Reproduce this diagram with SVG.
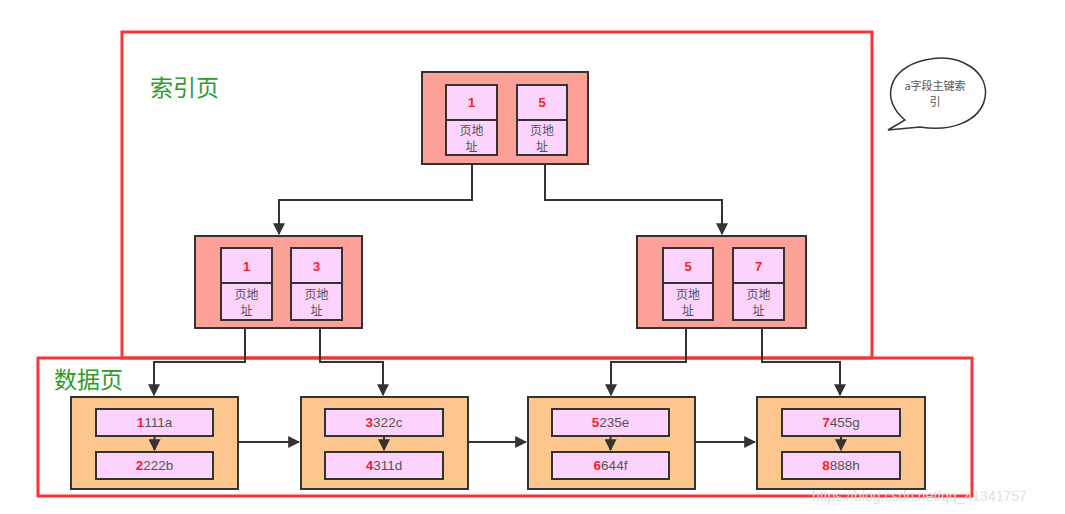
<svg xmlns="http://www.w3.org/2000/svg" width="1065" height="514" viewBox="0 0 1065 514">
<defs>
<style>
.frame{fill:none;stroke:#F5353A;stroke-width:3}
.idx{fill:#FDA098;stroke:#333;stroke-width:2}
.cell{fill:#FCD3FC;stroke:#333;stroke-width:2}
.data{fill:#FCC68E;stroke:#333;stroke-width:2}
.num{font-family:"Liberation Sans",Arial,sans-serif;font-weight:bold;font-size:13px;fill:#F21F2B;text-anchor:middle}
.lbl{font-family:"Noto Sans CJK SC",sans-serif;font-size:12px;fill:#555;text-anchor:middle}
.row{font-family:"Liberation Sans",Arial,sans-serif;font-size:13.5px;fill:#555;text-anchor:middle}
.row tspan.k{fill:#F21F2B;font-weight:bold}
.title{font-family:"Noto Sans CJK SC",sans-serif;font-size:23px;fill:#2E9A2E}
.conn{fill:none;stroke:#333;stroke-width:2}
</style>
<marker id="arr" viewBox="0 0 10 10" refX="9" refY="5" markerWidth="6" markerHeight="6" orient="auto" markerUnits="strokeWidth">
<path d="M0,0 L10,5 L0,10 z" fill="#333"/>
</marker>
</defs>
<rect width="1065" height="514" fill="#fff"/>

<g id="frames">
<rect class="frame" x="122" y="32" width="750" height="326"/>
<rect class="frame" x="38" y="358" width="934" height="138"/>
</g>
<text id="t-index" class="title" x="150" y="96">索引页</text>
<text id="t-data" class="title" x="54" y="388">数据页</text>

<g id="bubble">
<path d="M905,120 C880,100 888,68 925,60 C960,52 990,72 985,98 C980,122 950,132 920,127 L888,130 L905,120 Z" fill="#fff" stroke="#333" stroke-width="1.5"/>
<text class="lbl" x="935" y="90" style="font-size:11px">a字段主键索</text>
<text class="lbl" x="935" y="106" style="font-size:11px">引</text>
</g>

<g id="connectors">
<path class="conn" d="M472,164 V200 H279 V234" marker-end="url(#arr)"/>
<path class="conn" d="M545,164 V200 H722 V234" marker-end="url(#arr)"/>
<path class="conn" d="M245,328 V362 H154 V395" marker-end="url(#arr)"/>
<path class="conn" d="M320,328 V362 H383 V395" marker-end="url(#arr)"/>
<path class="conn" d="M686,328 V362 H611 V395" marker-end="url(#arr)"/>
<path class="conn" d="M762,328 V362 H840 V395" marker-end="url(#arr)"/>
<path class="conn" d="M238,442 H299" marker-end="url(#arr)"/>
<path class="conn" d="M468,442 H526" marker-end="url(#arr)"/>
<path class="conn" d="M695,442 H755" marker-end="url(#arr)"/>
</g>

<g id="node-root">
<rect class="idx" x="422" y="72" width="166" height="92"/>
<rect class="cell" x="446" y="85" width="51" height="70"/>
<line x1="446" y1="120" x2="497" y2="120" stroke="#333" stroke-width="2"/>
<rect class="cell" x="517" y="85" width="50" height="70"/>
<line x1="517" y1="120" x2="567" y2="120" stroke="#333" stroke-width="2"/>
<text class="num" x="471.5" y="107">1</text>
<text class="num" x="542" y="107">5</text>
<text class="lbl" x="471.5" y="135">页地</text><text class="lbl" x="471.5" y="151">址</text>
<text class="lbl" x="542" y="135">页地</text><text class="lbl" x="542" y="151">址</text>
</g>

<g id="node-left">
<rect class="idx" x="195" y="236" width="167" height="92"/>
<rect class="cell" x="221" y="248" width="51" height="72"/>
<line x1="221" y1="283" x2="272" y2="283" stroke="#333" stroke-width="2"/>
<rect class="cell" x="291" y="248" width="51" height="72"/>
<line x1="291" y1="283" x2="342" y2="283" stroke="#333" stroke-width="2"/>
<text class="num" x="246.5" y="271">1</text>
<text class="num" x="316.5" y="271">3</text>
<text class="lbl" x="246.5" y="299">页地</text><text class="lbl" x="246.5" y="315">址</text>
<text class="lbl" x="316.5" y="299">页地</text><text class="lbl" x="316.5" y="315">址</text>
</g>

<g id="node-right">
<rect class="idx" x="637" y="236" width="169" height="92"/>
<rect class="cell" x="663" y="248" width="50" height="72"/>
<line x1="663" y1="283" x2="713" y2="283" stroke="#333" stroke-width="2"/>
<rect class="cell" x="733" y="248" width="51" height="72"/>
<line x1="733" y1="283" x2="784" y2="283" stroke="#333" stroke-width="2"/>
<text class="num" x="688" y="271">5</text>
<text class="num" x="758.5" y="271">7</text>
<text class="lbl" x="688" y="299">页地</text><text class="lbl" x="688" y="315">址</text>
<text class="lbl" x="758.5" y="299">页地</text><text class="lbl" x="758.5" y="315">址</text>
</g>

<g id="data-1">
<rect class="data" x="71" y="397" width="167" height="92"/>
<rect class="cell" x="96" y="409" width="117" height="27"/>
<rect class="cell" x="96" y="452" width="117" height="27"/>
<path class="conn" d="M154.5,437 V450" marker-end="url(#arr)"/>
<text class="row" x="154.5" y="427"><tspan class="k">1</tspan>111a</text>
<text class="row" x="154.5" y="470"><tspan class="k">2</tspan>222b</text>
</g>

<g id="data-2">
<rect class="data" x="301" y="397" width="167" height="92"/>
<rect class="cell" x="325" y="409" width="118" height="27"/>
<rect class="cell" x="325" y="452" width="118" height="27"/>
<path class="conn" d="M384,437 V450" marker-end="url(#arr)"/>
<text class="row" x="384" y="427"><tspan class="k">3</tspan>322c</text>
<text class="row" x="384" y="470"><tspan class="k">4</tspan>311d</text>
</g>

<g id="data-3">
<rect class="data" x="528" y="397" width="167" height="92"/>
<rect class="cell" x="552" y="409" width="117" height="27"/>
<rect class="cell" x="552" y="452" width="117" height="27"/>
<path class="conn" d="M610.5,437 V450" marker-end="url(#arr)"/>
<text class="row" x="610.5" y="427"><tspan class="k">5</tspan>235e</text>
<text class="row" x="610.5" y="470"><tspan class="k">6</tspan>644f</text>
</g>

<g id="data-4">
<rect class="data" x="757" y="397" width="168" height="92"/>
<rect class="cell" x="782" y="409" width="118" height="27"/>
<rect class="cell" x="782" y="452" width="118" height="27"/>
<path class="conn" d="M841,437 V450" marker-end="url(#arr)"/>
<text class="row" x="841" y="427"><tspan class="k">7</tspan>455g</text>
<text class="row" x="841" y="470"><tspan class="k">8</tspan>888h</text>
</g>

<text id="watermark" x="812" y="501" font-family="Liberation Sans,Arial,sans-serif" font-size="14" fill="#ddd" opacity="0.9">https://blog.csdn.net/qq_41341757</text>
</svg>
